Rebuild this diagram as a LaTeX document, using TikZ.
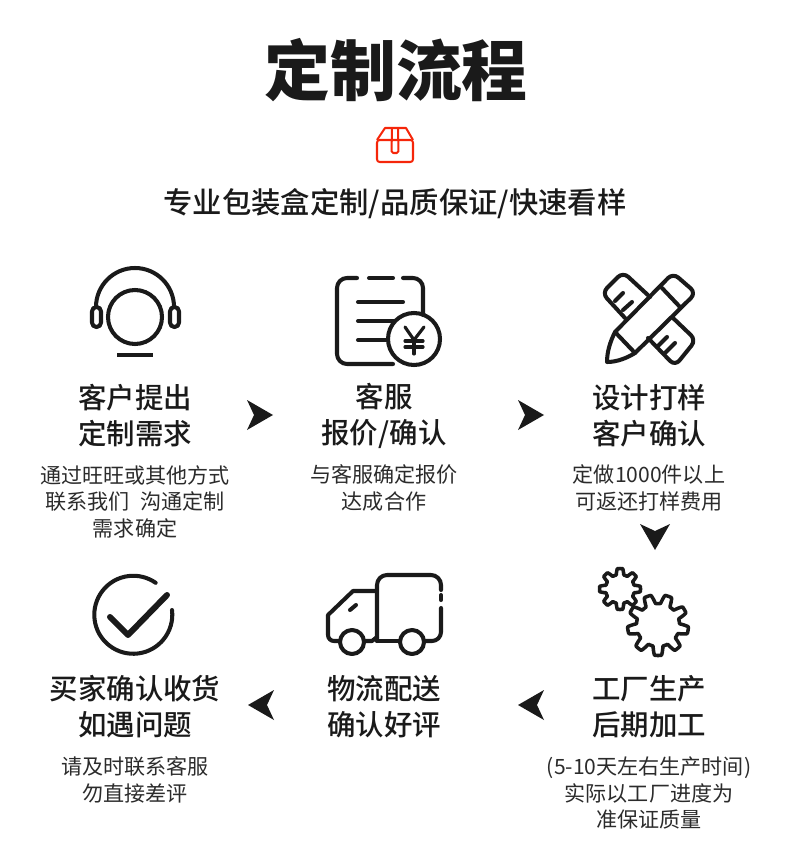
\documentclass[tikz,border=0pt]{standalone}
\usepackage{fontspec}
\setmainfont{Noto Sans CJK SC}
\newfontfamily\headfont{Noto Sans CJK SC Medium}
\newfontfamily\titlefont{Noto Sans CJK SC Black}
\usetikzlibrary{arrows.meta,positioning}
\definecolor{nk}{HTML}{1a1a1a}
\definecolor{nt}{HTML}{2b2b2b}
\definecolor{nr}{HTML}{f5260a}
\tikzset{
  icon/.style={draw=nk,line width=2.3pt,line cap=round,line join=round},
  boxicon/.style={draw=nr,line width=1.15pt,line join=round},
  headtext/.style={text=nk,align=center,font=\headfont\fontsize{16.2}{20.5}\selectfont},
  desctext/.style={text=nt,align=center,font=\fontsize{12}{15.1}\selectfont},
  flowtip/.pic={\fill[nk] (13,0)--(-13,-15)--(-6,0)--(-13,15)--cycle;}
}
\begin{document}
\begin{tikzpicture}[x=0.02cm,y=-0.02cm]
\useasboundingbox (0,0) rectangle (790,847);
\node[text=nk,font=\titlefont\fontsize{37.5}{40}\selectfont] (title) at (396,70) {定制流程};
\node[text=nk,font=\headfont\fontsize{16.7}{20}\selectfont] (subtitle) at (395,204) {专业包装盒定制/品质保证/快速看样};
% red box
\draw[boxicon,rounded corners=1.5] (377,140) rectangle (413,162);
\draw[boxicon] (377,140)--(385,128)--(406,128)--(413,140);
\draw[boxicon,rounded corners=1] (392,128)--(391.5,153)--(398.5,153)--(398,128);
% headset
\draw[icon] (135,317) circle[radius=27];
\draw[icon] (96,307) arc[start angle=180,end angle=360,radius=39];
\draw[icon,rounded corners=2.5] (92,307) rectangle (101,327);
\draw[icon,rounded corners=2.5] (170,307) rectangle (179,327);
\draw[icon,line cap=butt] (117,355)--(153,355);
% quote sheet
\draw[icon] (357,278)--(347,278) arc[start angle=270,end angle=180,radius=10]--(337,354) arc[start angle=180,end angle=90,radius=10]--(393,364);
\draw[icon] (369,278)--(393,278);
\draw[icon] (403,278)--(413,278) arc[start angle=270,end angle=360,radius=10]--(423,315);
\draw[icon] (358,302)--(403,302);
\draw[icon] (358,321)--(394,321);
\draw[icon] (358,340)--(386,340);
\draw[icon] (414,339) circle[radius=26];
\draw[icon,line width=1.8pt] (405,327)--(414,340)--(424,327);
\draw[icon,line width=1.8pt] (414,340)--(414,354);
\draw[icon,line width=1.8pt] (405,341)--(423,341);
\draw[icon,line width=1.8pt] (405,347)--(423,347);
% pencil and ruler
\draw[icon,rounded corners=4] (650,297)--(623,272)--(602,293)--(625,318);
\draw[icon,rounded corners=4] (673,318)--(696,340)--(675,366)--(648,338);
\draw[icon] (623,293)--(615,301);
\draw[icon] (632,302)--(623,310);
\draw[icon] (667,337)--(657,347);
\draw[icon] (675,343)--(665,353);
\draw[icon,rounded corners=4] (615,332)--(673,273)--(696,293)--(635,353);
\draw[icon] (615,332) .. controls (610,342) and (607,352) .. (607,362) .. controls (617,362) and (627,358) .. (635,353)--cycle;
\draw[icon] (662,288)--(680,307);
% truck
\draw[icon] (441,590)--(441,585) arc[start angle=0,end angle=-90,radius=10]--(387,575) arc[start angle=270,end angle=180,radius=10]--(377,641);
\draw[icon] (441,595)--(441,600);
\draw[icon] (441,608)--(441,632) arc[start angle=0,end angle=90,radius=9]--(424,641);
\draw[icon] (377,641)--(400,641);
\draw[icon] (377,591)--(353,591)--(328,615)--(328,635) arc[start angle=180,end angle=90,radius=6]--(340,641);
\draw[icon] (364,641)--(372,641)--(377,637);
\draw[icon] (350,610)--(356,605);
\draw[icon] (352,642) circle[radius=12];
\draw[icon] (412,642) circle[radius=12];
% gears
\draw[icon,line width=2pt] plot[domain=0:360,samples=241,variable=\t] ({620+(17.5+3*min(1,max(-1,2*cos(8*\t))))*cos(\t)},{589+(17.5+3*min(1,max(-1,2*cos(8*\t))))*sin(\t)})--cycle;
\draw[icon,line width=2pt] plot[domain=0:360,samples=271,variable=\t] ({658+(26+4.5*min(1,max(-1,2*cos(9*\t-90))))*cos(\t)},{625+(26+4.5*min(1,max(-1,2*cos(9*\t-90))))*sin(\t)})--cycle;
% check
\draw[icon] (172,610) arc[start angle=-7,end angle=305,radius=39];
\draw[icon,line width=3.4pt] (110,617)--(128,635)--(167,595);
% row one
\node[headtext] (need) at (135,416) {客户提出\\定制需求};
\node[desctext] (needdesc) at (135,501.5) {通过旺旺或其他方式\\联系我们\hspace{0.5em}沟通定制\\需求确定};
\node[headtext] (quote) at (384,416) {客服\\报价/确认};
\node[desctext] (quotedesc) at (384,488) {与客服确定报价\\达成合作};
\node[headtext] (sample) at (649,416) {设计打样\\客户确认};
\node[desctext] (sampledesc) at (649,488) {定做1000件以上\\可返还打样费用};
% row two
\node[headtext] (making) at (649,707) {工厂生产\\后期加工};
\node[desctext] (makingdesc) at (649,793) {(5-10天左右生产时间)\\实际以工厂进度为\\准保证质量};
\node[headtext] (ship) at (384,707) {物流配送\\确认好评};
\node[headtext] (receive) at (135,707) {买家确认收货\\如遇问题};
\node[desctext] (receivedesc) at (135,780) {请及时联系客服\\勿直接差评};
% arrows
\pic at (260,415) {flowtip};
\pic at (531,415) {flowtip};
\pic[rotate=-90] at (655,537) {flowtip};
\pic[rotate=180] at (531,705) {flowtip};
\pic[rotate=180] at (261,705) {flowtip};
\end{tikzpicture}
\end{document}
